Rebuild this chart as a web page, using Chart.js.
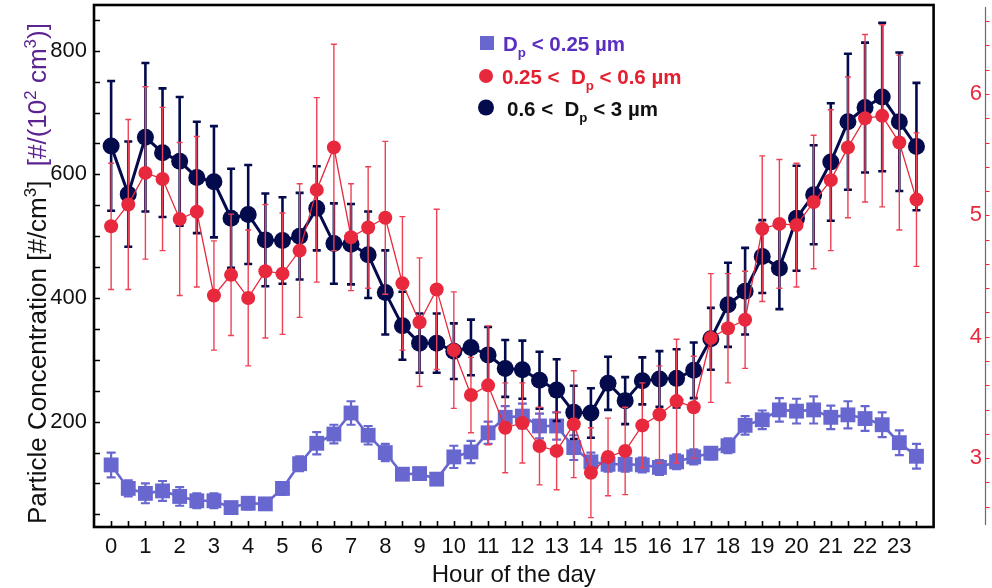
<!DOCTYPE html>
<html>
<head>
<meta charset="utf-8">
<script src="https://cdn.jsdelivr.net/npm/chart.js@4.4.1/dist/chart.umd.min.js"></script>
<style>
  html, body { margin: 0; padding: 0; background: #fff; }
</style>
</head>
<body>
<canvas id="chart" width="992" height="588"></canvas>
<script>
// half-hour bins
const hours = [0, 0.5, 1, 1.5, 2, 2.5, 3, 3.5, 4, 4.5, 5, 5.5, 6, 6.5, 7, 7.5, 8, 8.5, 9, 9.5,
  10, 10.5, 11, 11.5, 12, 12.5, 13, 13.5, 14, 14.5, 15, 15.5, 16, 16.5, 17, 17.5, 18, 18.5, 19, 19.5,
  20, 20.5, 21, 21.5, 22, 22.5, 23, 23.5];
const hourLabels = [0, 1, 2, 3, 4, 5, 6, 7, 8, 9, 10, 11, 12, 13, 14, 15, 16, 17, 18, 19, 20, 21, 22, 23];

// Dp < 0.25 um (left axis, #/(10^2 cm3))
const fineMean = [130, 92, 84, 88, 79, 72, 72, 61, 68, 67, 92, 132, 165, 180, 214, 178, 150, 115, 116, 107,
  143, 151, 182, 207, 209, 193, 193, 158, 135, 131, 131, 130, 126, 135, 143, 149, 161, 194, 203, 219,
  217, 219, 207, 211, 205, 195, 166, 144];
const fineErr = [20, 13, 16, 16, 15, 12, 12, 8, 10, 8, 10, 12, 18, 15, 19, 15, 14, 8, 8, 7,
  18, 18, 18, 18, 20, 20, 22, 20, 15, 12, 12, 12, 12, 12, 12, 10, 12, 15, 15, 19,
  20, 22, 19, 22, 20, 20, 20, 20];

// 0.25 < Dp < 0.6 um (right axis)
const midMean = [4.91, 5.09, 5.35, 5.30, 4.97, 5.03, 4.34, 4.51, 4.32, 4.54, 4.52, 4.71, 5.21, 5.56, 4.82, 4.90, 4.98, 4.44, 4.12, 4.39,
  3.89, 3.52, 3.60, 3.25, 3.29, 3.10, 3.06, 3.28, 2.88, 3.01, 3.06, 3.27, 3.36, 3.47, 3.42, 3.99, 4.07, 4.14, 4.89, 4.93,
  4.92, 5.11, 5.29, 5.56, 5.80, 5.82, 5.60, 5.13];
const midErr = [0.52, 0.70, 0.71, 0.59, 0.63, 0.62, 0.45, 0.50, 0.56, 0.55, 0.50, 0.55, 0.76, 0.85, 0.44, 0.50, 0.63, 0.55, 0.53, 0.66,
  0.48, 0.31, 0.49, 0.37, 0.33, 0.32, 0.32, 0.44, 0.37, 0.32, 0.36, 0.35, 0.40, 0.51, 0.42, 0.53, 0.45, 0.40, 0.60, 0.53,
  0.51, 0.55, 0.58, 0.58, 0.69, 0.75, 0.72, 0.55];

// 0.6 < Dp < 3 um (left axis, #/cm3)
const coarseMean = [646, 568, 660, 635, 621, 595, 588, 529, 535, 494, 493, 500, 545, 488, 487, 470, 409, 355, 327, 327,
  314, 320, 308, 286, 284, 267, 251, 215, 214, 262, 234, 266, 269, 270, 283, 334, 389, 411, 467, 448,
  529, 567, 620, 685, 708, 725, 685, 645];
const coarseErr = [105, 85, 120, 104, 104, 90, 90, 80, 80, 75, 70, 70, 68, 65, 65, 70, 68, 55, 48, 48,
  45, 45, 45, 46, 47, 46, 50, 43, 40, 43, 38, 38, 45, 47, 45, 50, 68, 70, 59, 66,
  85, 80, 95, 110, 105, 120, 112, 103];

const leftTicks = [200, 400, 600, 800];
const rightTicks = [3, 4, 5, 6];

const FONT = "'Liberation Sans', Arial, Helvetica, sans-serif";
const NAVY = '#030b4c';
const RED = '#e8283c';
const BLUE = '#6767cf';

function pts(vals) {
  return hours.map((h, i) => ({ x: h, y: vals[i] }));
}

// which error array goes with which dataset
const errs = [midErr, coarseErr, fineErr];
const errStyle = [
  { color: '#ee4254', width: 1.4, cap: 3 },
  { color: NAVY, width: 2.6, cap: 4 },
  { color: BLUE, width: 2.2, cap: 4.5 }
];

function drawRich(ctx, parts, x, y, size, weight) {
  parts.forEach(p => {
    const s = p.small ? size * 0.65 : size;
    ctx.font = `${weight} ${s}px ${FONT}`;
    ctx.fillStyle = p.color;
    ctx.fillText(p.t, x, y + (p.dy || 0) * size);
    x += ctx.measureText(p.t).width;
  });
  return x;
}
function richWidth(ctx, parts, size, weight) {
  let w = 0;
  parts.forEach(p => {
    ctx.font = `${weight} ${p.small ? size * 0.65 : size}px ${FONT}`;
    w += ctx.measureText(p.t).width;
  });
  return w;
}

const errorBars = {
  id: 'errorBars',
  beforeDatasetDraw(chart, args) {
    const i = args.index;
    const ds = chart.data.datasets[i];
    const xs = chart.scales.x;
    const ys = chart.scales[ds.yAxisID];
    const st = errStyle[i];
    const ctx = chart.ctx;
    ctx.save();
    ctx.strokeStyle = st.color;
    ctx.lineWidth = st.width;
    ds.data.forEach((p, k) => {
      const x = xs.getPixelForValue(p.x);
      const yt = ys.getPixelForValue(p.y + errs[i][k]);
      const yb = ys.getPixelForValue(p.y - errs[i][k]);
      ctx.beginPath();
      ctx.moveTo(x, yt); ctx.lineTo(x, yb);
      ctx.moveTo(x - st.cap, yt); ctx.lineTo(x + st.cap, yt);
      ctx.moveTo(x - st.cap, yb); ctx.lineTo(x + st.cap, yb);
      ctx.stroke();
    });
    ctx.restore();
  }
};

const decor = {
  id: 'decor',
  afterDraw(chart) {
    const ctx = chart.ctx;
    const xs = chart.scales.x, yl = chart.scales.y, yr = chart.scales.y2;
    const area = chart.chartArea;
    const left = xs.getPixelForValue(-0.5);
    const right = xs.getPixelForValue(24);
    const top = area.top, bottom = area.bottom;
    ctx.save();

    // inward ticks on the box
    ctx.strokeStyle = '#000';
    ctx.lineWidth = 1.6;
    ctx.beginPath();
    for (let v = 50; v <= 850; v += 50) {
      const y = Math.round(yl.getPixelForValue(v)) + 0.5;
      ctx.moveTo(left, y); ctx.lineTo(left + 6, y);
    }
    hours.forEach(h => {
      const x = Math.round(xs.getPixelForValue(h)) + 0.5;
      ctx.moveTo(x, bottom); ctx.lineTo(x, bottom - 6);
    });
    ctx.stroke();

    // plot frame
    ctx.lineWidth = 2.6;
    ctx.strokeRect(left, top, right - left, bottom - top);

    // detached right axis
    const ax = Math.round(area.right) + 0.5;
    ctx.strokeStyle = '#6a6a6a';
    ctx.lineWidth = 1.2;
    ctx.beginPath();
    ctx.moveTo(ax, top + 2); ctx.lineTo(ax, bottom - 2);
    ctx.stroke();
    ctx.strokeStyle = RED;
    ctx.lineWidth = 1;
    ctx.beginPath();
    for (let v = 2.6; v <= 6.65; v += 0.2) {
      const y = Math.round(yr.getPixelForValue(v)) + 0.5;
      ctx.moveTo(ax, y); ctx.lineTo(ax + 4, y);
    }
    ctx.stroke();

    // y title, two colours, sized to run from y=524 up to y=23
    const black = [
      { t: 'Particle Concentration [#/cm', color: '#111' },
      { t: '3', small: true, dy: -0.4, color: '#111' },
      { t: ']', color: '#111' }
    ];
    const purple = [
      { t: '[#/(10', color: '#5b2490' },
      { t: '2', small: true, dy: -0.4, color: '#5b2490' },
      { t: ' cm', color: '#5b2490' },
      { t: '3', small: true, dy: -0.4, color: '#5b2490' },
      { t: ')]', color: '#5b2490' }
    ];
    const unit = (richWidth(ctx, black, 20, 'normal') + richWidth(ctx, purple, 20, 'normal')) / 20;
    const fs = 501 / (unit + 0.55);
    const wb = richWidth(ctx, black, fs, 'normal');
    ctx.translate(46, 524);
    ctx.rotate(-Math.PI / 2);
    ctx.textBaseline = 'alphabetic';
    ctx.textAlign = 'left';
    drawRich(ctx, black, 0, 0, fs, 'normal');
    drawRich(ctx, purple, wb + fs * 0.55, 0, fs, 'normal');
    ctx.setTransform(1, 0, 0, 1, 0, 0);

    // x title
    ctx.font = `24px ${FONT}`;
    ctx.fillStyle = '#111';
    ctx.textAlign = 'center';
    ctx.textBaseline = 'middle';
    ctx.fillText('Hour of the day', (left + right) / 2, 575);

    // legend
    ctx.textAlign = 'left';
    ctx.textBaseline = 'alphabetic';
    const ls = 20.5;
    ctx.fillStyle = BLUE;
    ctx.fillRect(480, 36, 14, 14);
    drawRich(ctx, [
      { t: 'D', color: '#5a2fc0' },
      { t: 'p', small: true, dy: 0.3, color: '#5a2fc0' },
      { t: ' < 0.25 \u00b5m', color: '#5a2fc0' }
    ], 503, 50.5, ls, 'bold');
    ctx.fillStyle = RED;
    ctx.beginPath(); ctx.arc(486, 76, 7, 0, Math.PI * 2); ctx.fill();
    drawRich(ctx, [
      { t: '0.25 <  D', color: '#e3202f' },
      { t: 'p', small: true, dy: 0.3, color: '#e3202f' },
      { t: ' < 0.6 \u00b5m', color: '#e3202f' }
    ], 502, 83.5, ls, 'bold');
    ctx.fillStyle = NAVY;
    ctx.beginPath(); ctx.arc(486, 107.5, 8, 0, Math.PI * 2); ctx.fill();
    drawRich(ctx, [
      { t: '0.6 <  D', color: '#111' },
      { t: 'p', small: true, dy: 0.3, color: '#111' },
      { t: ' < 3 \u00b5m', color: '#111' }
    ], 507, 115.5, ls, 'bold');

    ctx.restore();
  }
};

function noPad(s) {
  s.paddingTop = 0; s.paddingBottom = 0; s.paddingLeft = 0; s.paddingRight = 0;
}

new Chart(document.getElementById('chart'), {
  type: 'line',
  data: {
    datasets: [
      {
        label: '0.25 < Dp < 0.6 \u00b5m',
        data: pts(midMean),
        yAxisID: 'y2',
        order: 0,
        borderColor: RED,
        borderWidth: 1.3,
        backgroundColor: RED,
        pointBackgroundColor: RED,
        pointBorderWidth: 0,
        pointRadius: 7,
        tension: 0
      },
      {
        label: '0.6 < Dp < 3 \u00b5m',
        data: pts(coarseMean),
        yAxisID: 'y',
        order: 1,
        borderColor: NAVY,
        borderWidth: 3,
        backgroundColor: NAVY,
        pointBackgroundColor: NAVY,
        pointBorderWidth: 0,
        pointRadius: 8.5,
        tension: 0
      },
      {
        label: 'Dp < 0.25 \u00b5m',
        data: pts(fineMean),
        yAxisID: 'y',
        order: 2,
        borderColor: BLUE,
        borderWidth: 2.6,
        backgroundColor: BLUE,
        pointBackgroundColor: BLUE,
        pointBorderWidth: 0,
        pointStyle: 'rect',
        pointRadius: 10.5,
        tension: 0
      }
    ]
  },
  options: {
    responsive: false,
    animation: false,
    layout: { autoPadding: false, padding: { top: 5, left: 0, right: 0, bottom: 0 } },
    plugins: { legend: { display: false }, tooltip: { enabled: false } },
    scales: {
      x: {
        type: 'linear',
        min: -0.5,
        max: 25.5,
        bounds: 'data',
        grid: { display: false, drawTicks: false },
        border: { display: false },
        ticks: { font: { size: 22, family: FONT }, color: '#111', padding: 7, maxRotation: 0, autoSkip: false },
        afterBuildTicks: s => { s.ticks = hourLabels.map(v => ({ value: v })); },
        afterFit: s => { s.height = 61; noPad(s); }
      },
      y: {
        type: 'linear',
        position: 'left',
        min: 29.6,
        max: 873.9,
        bounds: 'data',
        grid: { display: false, drawTicks: false },
        border: { display: false },
        ticks: { font: { size: 22, family: FONT }, color: '#111', padding: 7 },
        afterBuildTicks: s => { s.ticks = leftTicks.map(v => ({ value: v })); },
        afterFit: s => { s.width = 94; noPad(s); }
      },
      y2: {
        type: 'linear',
        position: 'right',
        min: 2.433,
        max: 6.733,
        bounds: 'data',
        grid: { display: false, drawTicks: false },
        border: { display: false },
        ticks: { font: { size: 22, family: FONT }, color: RED, mirror: true, padding: -3 },
        afterBuildTicks: s => { s.ticks = rightTicks.map(v => ({ value: v })); },
        afterFit: s => { s.width = 7; noPad(s); }
      }
    }
  },
  plugins: [errorBars, decor]
});
</script>
</body>
</html>
